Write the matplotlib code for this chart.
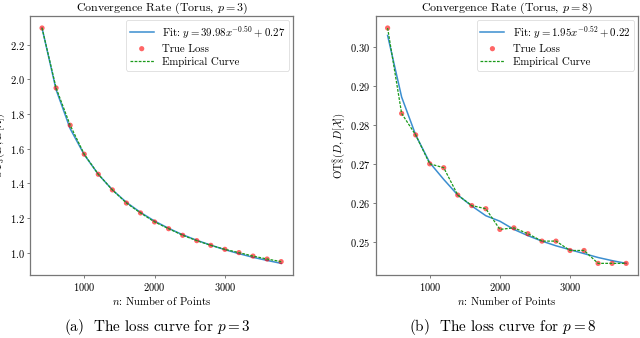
import matplotlib
matplotlib.use("Agg")
import matplotlib.pyplot as plt

plt.rcParams['font.family'] = 'serif'
plt.rcParams['font.serif'] = ['cmr10']
plt.rcParams['mathtext.fontset'] = 'cm'
plt.rcParams['axes.formatter.use_mathtext'] = True

n_points = [400, 600, 800, 1000, 1200, 1400, 1600, 1800, 2000, 2200,
            2400, 2600, 2800, 3000, 3200, 3400, 3600, 3800]

loss_p3 = [2.296, 1.950, 1.735, 1.568, 1.452, 1.362, 1.286, 1.229, 1.177, 1.138,
           1.100, 1.069, 1.042, 1.019, 1.000, 0.980, 0.963, 0.948]
fit_p3 = [2.296, 1.940, 1.715, 1.565, 1.452, 1.362, 1.290, 1.232, 1.182, 1.140,
          1.103, 1.071, 1.043, 1.017, 0.994, 0.973, 0.955, 0.938]

loss_p8 = [0.3048, 0.2829, 0.2774, 0.2700, 0.2690, 0.2620, 0.2593, 0.2585, 0.2532, 0.2536,
           0.2521, 0.2502, 0.2502, 0.2478, 0.2478, 0.2445, 0.2445, 0.2445]
fit_p8 = [0.3029, 0.2871, 0.2774, 0.2703, 0.2660, 0.2620, 0.2592, 0.2567, 0.2553, 0.2532,
          0.2516, 0.2502, 0.2490, 0.2480, 0.2470, 0.2460, 0.2452, 0.2445]

panels = [
    dict(loss=loss_p3, fit=fit_p3, p=3, fitlabel=r'Fit: $y = 39.98x^{-0.50} + 0.27$',
         caption=r'(a)  The loss curve for $p = 3$', pos=[0.047, 0.186, 0.411, 0.766], capx=0.245),
    dict(loss=loss_p8, fit=fit_p8, p=8, fitlabel=r'Fit: $y = 1.95x^{-0.52} + 0.22$',
         caption=r'(b)  The loss curve for $p = 8$', pos=[0.587, 0.186, 0.41, 0.766], capx=0.786),
]

fig = plt.figure(figsize=(6.4, 3.38), dpi=100)
for pn in panels:
    ax = fig.add_axes(pn['pos'])
    ax.plot(n_points, pn['fit'], color='#3b8ed0', lw=1.1, label=pn['fitlabel'], zorder=2)
    ax.scatter(n_points, pn['loss'], color='red', s=14, alpha=0.6, edgecolors='none',
               label='True Loss', zorder=3)
    ax.plot(n_points, pn['loss'], color='#1a9a1a', lw=0.9, ls=(0, (2.2, 1.1)),
            label='Empirical Curve', zorder=4)
    ax.set_title(r'Convergence Rate (Torus, $p = %d$)' % pn['p'], fontsize=8.6, pad=1.5)
    ax.set_xlabel(r'$n$: Number of Points', fontsize=7.8, labelpad=1)
    ax.set_ylabel(r'$\mathrm{OT}_{%d}^{%d}(D, D[\mathcal{X}])$' % (pn['p'], pn['p']),
                  fontsize=7.8, labelpad=2)
    ax.set_xticks([1000, 2000, 3000])
    ax.tick_params(labelsize=7.5, length=2.5, width=0.6, color='#666666', pad=1.5)
    for s in ax.spines.values():
        s.set_color('#777777')
        s.set_linewidth(0.9)
    leg = ax.legend(loc='upper right', fontsize=7.8, frameon=True, framealpha=0.8,
                    borderpad=0.35, labelspacing=0.3, handlelength=2.2, fancybox=True,
                    borderaxespad=0.35)
    leg.get_frame().set_linewidth(0.5)
    fig.text(pn['capx'], 0.004, pn['caption'], ha='center', va='bottom', fontsize=10.9)

fig.savefig('out.png', dpi=100)
